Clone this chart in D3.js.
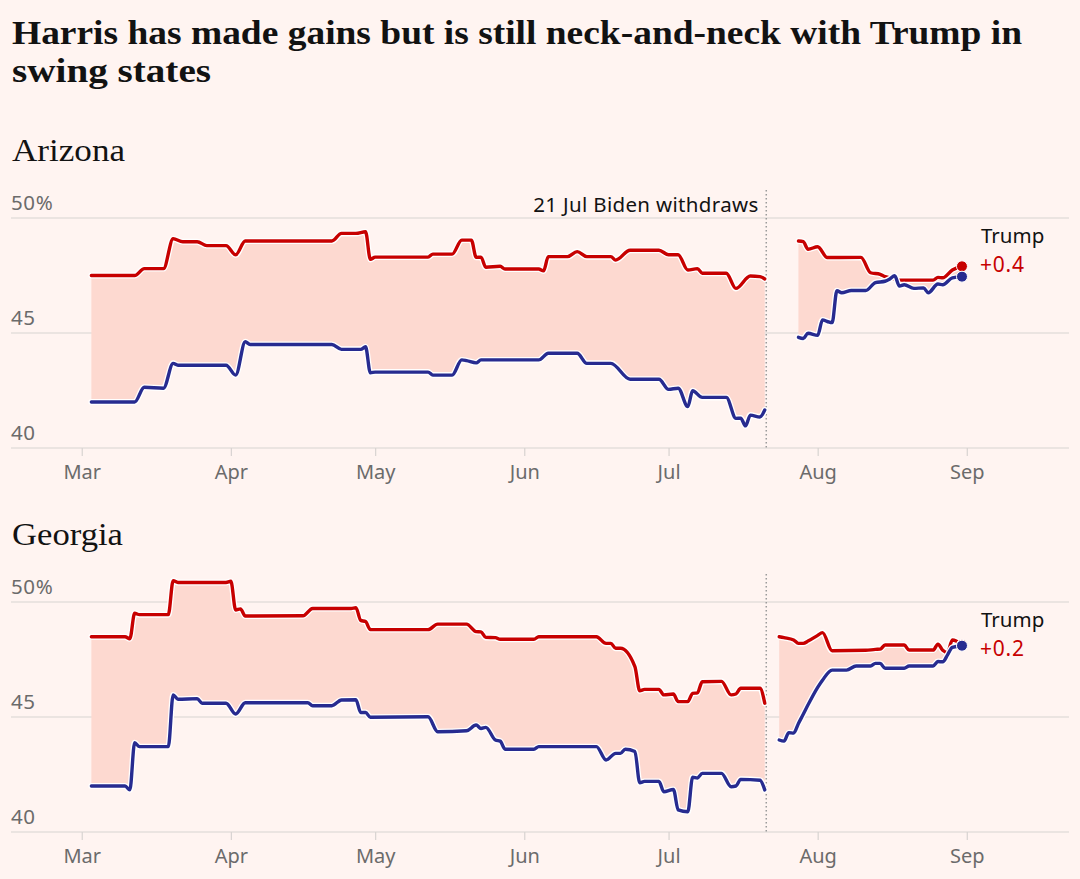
<!DOCTYPE html>
<html>
<head>
<meta charset="utf-8">
<script src="https://cdn.jsdelivr.net/npm/d3@7"></script>
<style>
  html, body { margin: 0; padding: 0; background: #fff4f1; }
  svg { display: block; }
</style>
</head>
<body>
<svg id="chart" width="1080" height="879"></svg>
<script>
// ---------- DATA ----------
const titleLines = ["Harris has made gains but is still neck-and-neck with Trump in", "swing states"];
const states = ["Arizona", "Georgia"];
const leaderNames = ["Trump", "Trump"];
const leadLabels = ["+0.4", "+0.2"];
const yTicks = [40, 45, 50];
const monthTicks = ["2024-03-01", "2024-04-01", "2024-05-01", "2024-06-01", "2024-07-01", "2024-08-01", "2024-09-01"];
const withdrawDate = "2024-07-21";
const withdrawLabel = "21 Jul Biden withdraws";

// Arizona, before Biden withdrew
const azTrumpBefore = [
  ["2024-03-03",47.5],["2024-03-12",47.5],["2024-03-14",47.8],["2024-03-18",47.8],["2024-03-20",49.1],
  ["2024-03-22",48.97],["2024-03-25",48.97],["2024-03-27",48.8],["2024-03-31",48.8],["2024-04-02",48.4],
  ["2024-04-04",49.0],["2024-04-22",49.0],["2024-04-24",49.33],["2024-04-27",49.33],["2024-04-29",49.4],
  ["2024-04-30",48.2],["2024-05-01",48.3],["2024-05-12",48.3],["2024-05-13",48.43],["2024-05-17",48.43],
  ["2024-05-19",49.04],["2024-05-21",49.04],["2024-05-22",48.29],["2024-05-23",48.3],["2024-05-24",47.86],
  ["2024-05-27",47.9],["2024-05-28",47.78],["2024-06-04",47.78],["2024-06-05",47.7],["2024-06-06",48.32],
  ["2024-06-10",48.32],["2024-06-12",48.54],["2024-06-14",48.32],["2024-06-19",48.32],["2024-06-20",48.17],
  ["2024-06-23",48.6],["2024-06-29",48.6],["2024-07-01",48.4],["2024-07-03",48.4],["2024-07-05",47.74],
  ["2024-07-07",47.8],["2024-07-08",47.6],["2024-07-13",47.6],["2024-07-15",46.94],["2024-07-18",47.48],
  ["2024-07-20",47.45],["2024-07-21",47.35]
];
const azDemBefore = [
  ["2024-03-03",42.0],["2024-03-12",42.0],["2024-03-14",42.64],["2024-03-18",42.6],["2024-03-20",43.68],
  ["2024-03-21",43.6],["2024-03-31",43.6],["2024-04-02",43.17],["2024-04-04",44.62],["2024-04-05",44.5],
  ["2024-04-22",44.5],["2024-04-24",44.29],["2024-04-28",44.29],["2024-04-29",44.4],["2024-04-30",43.27],
  ["2024-05-01",43.3],["2024-05-12",43.3],["2024-05-13",43.17],["2024-05-17",43.17],["2024-05-19",43.83],
  ["2024-05-20",43.8],["2024-05-22",43.7],["2024-05-23",43.83],["2024-06-04",43.83],["2024-06-06",44.12],
  ["2024-06-12",44.12],["2024-06-14",43.68],["2024-06-19",43.68],["2024-06-23",42.99],["2024-06-29",42.99],
  ["2024-07-01",42.55],["2024-07-03",42.6],["2024-07-05",41.8],["2024-07-06",42.49],["2024-07-08",42.2],
  ["2024-07-13",42.2],["2024-07-15",41.29],["2024-07-16",41.3],["2024-07-17",40.96],["2024-07-18",41.43],
  ["2024-07-20",41.35],["2024-07-21",41.65]
];
// Arizona, Harris era
const azTrumpAfter = [
  ["2024-07-28",49.0],["2024-07-29",48.97],["2024-07-30",48.64],["2024-08-01",48.75],["2024-08-03",48.28],
  ["2024-08-10",48.29],["2024-08-12",47.62],["2024-08-14",47.55],["2024-08-15",47.45],["2024-08-16",47.4],
  ["2024-08-17",47.35],["2024-08-18",47.3],["2024-08-25",47.3],["2024-08-26",47.42],["2024-08-27",47.4],
  ["2024-08-29",47.74],["2024-08-31",47.9]
];
const azDemAfter = [
  ["2024-07-28",44.81],["2024-07-29",44.76],["2024-07-30",44.99],["2024-08-01",44.9],["2024-08-02",45.57],
  ["2024-08-03",45.5],["2024-08-04",45.45],["2024-08-05",46.84],["2024-08-06",46.75],["2024-08-08",46.85],
  ["2024-08-11",46.85],["2024-08-13",47.19],["2024-08-15",47.25],["2024-08-16",47.35],["2024-08-17",47.49],
  ["2024-08-18",47.04],["2024-08-19",47.1],["2024-08-21",46.94],["2024-08-23",46.96],["2024-08-24",46.75],
  ["2024-08-26",47.13],["2024-08-27",47.1],["2024-08-29",47.4],["2024-08-31",47.45]
];
// Georgia, before Biden withdrew
const gaTrumpBefore = [
  ["2024-03-03",48.49],["2024-03-10",48.49],["2024-03-11",48.4],["2024-03-12",49.51],["2024-03-13",49.45],
  ["2024-03-19",49.45],["2024-03-20",50.93],["2024-03-21",50.85],["2024-03-31",50.85],["2024-04-01",50.9],
  ["2024-04-02",49.65],["2024-04-03",49.7],["2024-04-04",49.39],["2024-04-16",49.4],["2024-04-18",49.72],
  ["2024-04-26",49.72],["2024-04-27",49.75],["2024-04-28",49.2],["2024-04-29",49.15],["2024-04-30",48.8],
  ["2024-05-12",48.8],["2024-05-14",49.04],["2024-05-20",49.04],["2024-05-22",48.71],["2024-05-23",48.7],
  ["2024-05-24",48.46],["2024-05-26",48.45],["2024-05-27",48.38],["2024-06-03",48.38],["2024-06-04",48.49],
  ["2024-06-16",48.49],["2024-06-18",48.2],["2024-06-19",48.2],["2024-06-20",47.99],["2024-06-21",47.99],
  ["2024-06-24",47.19],["2024-06-25",46.14],["2024-06-26",46.2],["2024-06-29",46.2],["2024-06-30",45.96],
  ["2024-07-02",46.0],["2024-07-03",45.67],["2024-07-05",45.67],["2024-07-06",46.03],["2024-07-07",46.05],
  ["2024-07-08",46.53],["2024-07-12",46.55],["2024-07-14",45.96],["2024-07-15",46.0],["2024-07-16",46.25],
  ["2024-07-20",46.25],["2024-07-21",45.6]
];
const gaDemBefore = [
  ["2024-03-03",42.0],["2024-03-10",42.0],["2024-03-11",41.83],["2024-03-12",43.88],["2024-03-13",43.71],
  ["2024-03-19",43.71],["2024-03-20",45.96],["2024-03-21",45.77],["2024-03-25",45.8],["2024-03-26",45.6],
  ["2024-03-31",45.6],["2024-04-02",45.13],["2024-04-04",45.62],["2024-04-17",45.62],["2024-04-18",45.49],
  ["2024-04-22",45.49],["2024-04-24",45.74],["2024-04-27",45.75],["2024-04-28",45.19],["2024-04-29",45.2],
  ["2024-04-30",44.99],["2024-05-12",45.01],["2024-05-14",44.36],["2024-05-20",44.4],["2024-05-22",44.65],
  ["2024-05-23",44.5],["2024-05-24",44.55],["2024-05-26",44.0],["2024-05-27",43.95],["2024-05-28",43.6],
  ["2024-06-03",43.6],["2024-06-04",43.71],["2024-06-16",43.71],["2024-06-18",43.13],["2024-06-20",43.42],
  ["2024-06-21",43.42],["2024-06-22",43.6],["2024-06-24",43.5],["2024-06-25",42.14],["2024-06-26",42.2],
  ["2024-06-29",42.2],["2024-06-30",41.75],["2024-07-02",41.85],["2024-07-03",40.96],["2024-07-05",40.88],
  ["2024-07-06",42.38],["2024-07-07",42.35],["2024-07-08",42.55],["2024-07-12",42.55],["2024-07-14",41.97],
  ["2024-07-15",42.0],["2024-07-16",42.29],["2024-07-20",42.25],["2024-07-21",41.83]
];
// Georgia, Harris era
const gaTrumpAfter = [
  ["2024-07-24",48.49],["2024-07-25",48.45],["2024-07-27",48.35],["2024-07-28",48.2],["2024-07-29",48.2],
  ["2024-07-30",48.3],["2024-08-01",48.55],["2024-08-02",48.67],["2024-08-04",47.88],["2024-08-11",47.9],
  ["2024-08-13",47.94],["2024-08-14",47.95],["2024-08-15",48.13],["2024-08-19",48.13],["2024-08-20",47.91],
  ["2024-08-25",47.91],["2024-08-26",48.17],["2024-08-27",47.9],["2024-08-28",47.8],["2024-08-29",48.35],
  ["2024-08-31",48.14]
];
const gaDemAfter = [
  ["2024-07-24",44.0],["2024-07-25",43.95],["2024-07-26",44.32],["2024-07-27",44.3],["2024-07-28",44.72],
  ["2024-07-29",45.12],["2024-07-30",45.53],["2024-08-01",46.29],["2024-08-02",46.6],["2024-08-04",47.04],
  ["2024-08-07",47.04],["2024-08-09",47.22],["2024-08-12",47.22],["2024-08-13",47.33],["2024-08-14",47.33],
  ["2024-08-15",47.12],["2024-08-19",47.12],["2024-08-20",47.22],["2024-08-25",47.22],["2024-08-26",47.41],
  ["2024-08-27",47.4],["2024-08-28",47.7],["2024-08-29",48.03],["2024-08-31",48.1]
];

// ---------- DRAWING ----------
const RED = "#c70000", BLUE = "#272b90", FILL = "#fdd9d0", GRID = "#d8d3d1", MUTED = "#6b6b6b";
const SANS = "'Noto Sans', 'Open Sans', sans-serif";
const SERIF = "'Liberation Serif', 'DejaVu Serif', serif";
const parse = d3.utcParse("%Y-%m-%d");
const toPts = arr => arr.map(([d, v]) => ({ date: parse(d), v }));

const svg = d3.select("#chart");
svg.append("rect").attr("width", 1080).attr("height", 879).attr("fill", "#fff4f1");

// Title
const titleBaselines = [44, 82];
const titleWidths = [1010, 199];
titleLines.forEach((t, i) => {
  svg.append("text").attr("x", 12).attr("y", titleBaselines[i])
    .attr("font-family", SERIF).attr("font-weight", 700).attr("font-size", 34)
    .attr("fill", "#121212").attr("textLength", titleWidths[i]).attr("lengthAdjust", "spacingAndGlyphs")
    .text(t);
});

const x = d3.scaleUtc()
  .domain([new Date(Date.UTC(2024, 1, 15, 7)), new Date(Date.UTC(2024, 8, 22, 6))])
  .range([11, 1069]);

const panels = [
  { top: 218, bottom: 448, titleY: 161, titleW: 113, series: [[azTrumpBefore, azDemBefore], [azTrumpAfter, azDemAfter]], annotate: true },
  { top: 602, bottom: 832, titleY: 545, titleW: 111, series: [[gaTrumpBefore, gaDemBefore], [gaTrumpAfter, gaDemAfter]], annotate: false }
];

panels.forEach((p, pi) => {
  const y = d3.scaleLinear().domain([40, 50]).range([p.bottom, p.top]);
  const g = svg.append("g");

  // state title
  g.append("text").attr("x", 12).attr("y", p.titleY)
    .attr("font-family", SERIF).attr("font-size", 32).attr("fill", "#121212")
    .attr("textLength", p.titleW).attr("lengthAdjust", "spacingAndGlyphs")
    .text(states[pi]);

  // gridlines + y labels
  yTicks.forEach(t => {
    g.append("line").attr("x1", 11).attr("x2", 1069).attr("y1", y(t)).attr("y2", y(t))
      .attr("stroke", GRID).attr("stroke-width", 1.2);
    g.append("text").attr("x", 11).attr("y", y(t) - 8)
      .attr("font-family", SANS).attr("font-size", 20.5).attr("fill", MUTED)
      .attr("letter-spacing", 0.6)
      .text(t === 50 ? "50%" : String(t));
  });

  // x axis
  const axis = d3.axisBottom(x).tickValues(monthTicks.map(parse))
    .tickFormat(d3.utcFormat("%b")).tickSize(8).tickPadding(4);
  const ax = g.append("g").attr("transform", `translate(0,${p.bottom})`).call(axis);
  ax.select(".domain").remove();
  ax.selectAll(".tick line").attr("stroke", GRID).attr("stroke-width", 1.2);
  ax.selectAll(".tick text").attr("font-family", SANS).attr("font-size", 20)
    .attr("fill", MUTED).attr("y", 31).attr("dy", 0);

  // withdrawal marker
  const wx = x(parse(withdrawDate)) + 1.5;
  g.append("line").attr("x1", wx).attr("x2", wx).attr("y1", p.top - 28).attr("y2", p.bottom)
    .attr("stroke", "#9a9a9a").attr("stroke-width", 1.5).attr("stroke-dasharray", "1.5,2.5");
  if (p.annotate) {
    g.append("text").attr("x", wx - 8).attr("y", p.top - 6).attr("text-anchor", "end")
      .attr("font-family", SANS).attr("font-size", 20.5).attr("fill", "#121212")
      .attr("textLength", 225).attr("lengthAdjust", "spacing")
      .text(withdrawLabel);
  }

  const line = d3.line().x(d => x(d.date)).y(d => y(d.v)).curve(d3.curveMonotoneX);

  p.series.forEach(([rep, dem]) => {
    const r = toPts(rep), b = toPts(dem);
    const areaPath = line(r) + "L" + line(b.slice().reverse()).slice(1) + "Z";
    g.append("path").attr("d", areaPath).attr("fill", FILL).attr("stroke", "none");
  });
  p.series.forEach(([rep, dem]) => {
    [[rep, RED], [dem, BLUE]].forEach(([s, c]) => {
      const pts = toPts(s);
      g.append("path").attr("d", line(pts)).attr("fill", "none")
        .attr("stroke", "#fff").attr("stroke-width", 6).attr("stroke-linejoin", "round").attr("stroke-linecap", "round");
      g.append("path").attr("d", line(pts)).attr("fill", "none")
        .attr("stroke", c).attr("stroke-width", 3.4).attr("stroke-linejoin", "round").attr("stroke-linecap", "round");
    });
  });

  // end dots
  const [repLast, demLast] = p.series[1].map(s => toPts(s).slice(-1)[0]);
  [[repLast, RED], [demLast, BLUE]].forEach(([d, c]) => {
    g.append("circle").attr("cx", x(d.date)).attr("cy", y(d.v)).attr("r", 5.5)
      .attr("fill", c).attr("stroke", "#fff").attr("stroke-width", 1);
  });

  // leader labels
  g.append("text").attr("x", 981).attr("y", p.top + 25)
    .attr("font-family", SANS).attr("font-size", 20.5).attr("fill", "#121212").text(leaderNames[pi]);
  g.append("text").attr("x", 980).attr("y", p.top + 54)
    .attr("font-family", SANS).attr("font-size", 21).attr("fill", RED)
    .attr("letter-spacing", 0.8).text(leadLabels[pi]);
});
</script>
</body>
</html>
